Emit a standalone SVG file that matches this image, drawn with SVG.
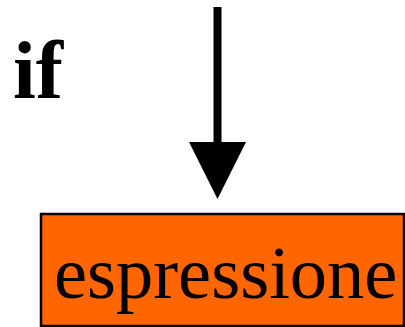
<svg xmlns="http://www.w3.org/2000/svg" width="405" height="327" viewBox="0 0 405 327">
<style>
.t{font-family:"Liberation Serif","Times New Roman",serif;fill:#000}
</style>
<rect width="405" height="327" fill="#fff"/>
<g id="label-if"><text class="t" x="13" y="98" font-size="82" font-weight="bold">if</text></g>
<g id="connectors">
<line x1="217.5" y1="7" x2="217.5" y2="145" stroke="#000" stroke-width="8"/>
<polygon points="189,142 246,142 217.5,199" fill="#000"/>
</g>
<g id="node-espressione">
<rect x="41" y="214" width="363" height="112" fill="#ff6600" stroke="#000" stroke-width="2.5"/>
<text class="t" x="54" y="298" font-size="74.5">espressione</text>
</g>
</svg>
